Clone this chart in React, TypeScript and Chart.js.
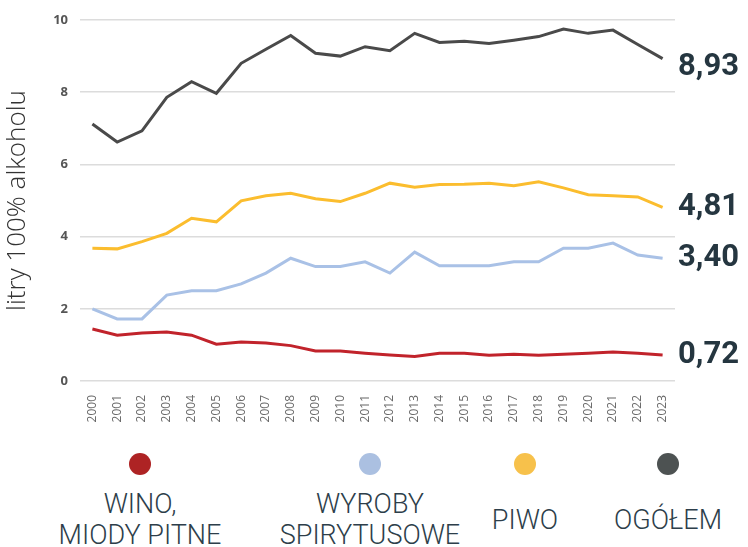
import React, { useEffect, useRef } from "react";
import { Chart, registerables } from "chart.js";

Chart.register(...registerables);

const years = ["2000","2001","2002","2003","2004","2005","2006","2007","2008","2009","2010","2011","2012","2013","2014","2015","2016","2017","2018","2019","2020","2021","2022","2023"];
const wino = [1.44,1.27,1.33,1.36,1.27,1.02,1.08,1.05,0.98,0.83,0.83,0.77,0.72,0.68,0.77,0.77,0.71,0.74,0.71,0.74,0.77,0.80,0.77,0.72];
const spirytus = [2.0,1.72,1.72,2.38,2.5,2.5,2.69,2.99,3.4,3.17,3.17,3.3,2.99,3.57,3.19,3.19,3.19,3.3,3.3,3.68,3.68,3.82,3.49,3.40];
const piwo = [3.68,3.66,3.86,4.09,4.51,4.41,4.99,5.13,5.2,5.05,4.97,5.2,5.48,5.37,5.44,5.45,5.48,5.41,5.52,5.35,5.16,5.13,5.1,4.81];
const ogolem = [7.12,6.62,6.93,7.86,8.29,7.97,8.80,9.19,9.57,9.08,9.00,9.26,9.15,9.63,9.38,9.41,9.35,9.44,9.54,9.75,9.63,9.72,9.32,8.93];
const yTicks = [0, 2, 4, 6, 8, 10];
const yTitle = "litry 100% alkoholu";

const seriesNames = ["WINO,\nMIODY PITNE", "WYROBY\nSPIRYTUSOWE", "PIWO", "OGÓŁEM"];
const lineColors = ["#c1232b", "#a9c1e6", "#fbbd2e", "#4a4a4a"];
const dotColors = ["#ae2324", "#abc0e1", "#f7c14b", "#4d5252"];
const legendCenters = [140, 370, 525, 668];

const endLabelPlugin = {
  id: "endLabels",
  afterDatasetsDraw(chart: any) {
    const { ctx, chartArea, scales } = chart;
    ctx.save();
    ctx.font = "bold 31px Roboto";
    ctx.fillStyle = "#253640";
    ctx.textBaseline = "middle";
    ctx.textAlign = "left";
    chart.data.datasets.forEach((ds: any) => {
      const v = ds.data[ds.data.length - 1];
      let y = scales.y.getPixelForValue(v);
      // keep the top label clear of the top gridline area, as in the reference
      y = Math.max(y, chartArea.top + 47);
      ctx.fillText(v.toFixed(2).replace(".", ","), chartArea.right + 3, y);
    });
    ctx.restore();
  },
};

export default function App() {
  const ref = useRef<HTMLCanvasElement>(null);
  useEffect(() => {
    document.body.style.margin = "0";
    const chart = new Chart(ref.current!, {
      type: "line",
      data: {
        labels: years,
        datasets: [wino, spirytus, piwo, ogolem].map((d, i) => ({
          label: seriesNames[i],
          data: d,
          borderColor: lineColors[i],
          backgroundColor: lineColors[i],
          borderWidth: 3,
          pointRadius: 0,
          tension: 0,
        })),
      },
      options: {
        animation: false,
        responsive: false,
        maintainAspectRatio: false,
        layout: { padding: { top: 20, right: 73, left: 2, bottom: 0 } },
        plugins: { legend: { display: false }, tooltip: { enabled: false } },
        scales: {
          x: {
            offset: true,
            grid: { display: false },
            border: { display: false },
            ticks: {
              minRotation: 90,
              maxRotation: 90,
              autoSkip: false,
              color: "#6a6a6a",
              padding: 6,
              font: { family: "Open Sans", size: 12 },
            },
            afterFit: (s: any) => { s.height = 59; },
          },
          y: {
            min: 0,
            max: 10,
            afterBuildTicks: (s: any) => { s.ticks = yTicks.map((v) => ({ value: v })); },
            grid: { color: "#dcdcdc", lineWidth: 1.5, drawTicks: false },
            border: { display: false },
            ticks: {
              color: "#555",
              padding: 12,
              font: { family: "Open Sans", size: 13, weight: "bold" },
            },
            title: {
              display: true,
              text: yTitle,
              color: "#333",
              font: { family: "Open Sans", size: 26, weight: "300" },
              padding: { top: 0, bottom: 4 },
            },
            afterFit: (s: any) => { s.width = 78; },
          },
        },
      },
      plugins: [endLabelPlugin],
    } as any);
    return () => chart.destroy();
  }, []);

  return (
    <div style={{ position: "relative", width: 748, height: 547, overflow: "hidden", background: "#fff" }}>
      <canvas ref={ref} width={748} height={440} style={{ position: "absolute", left: 0, top: 0, width: 748, height: 440 }} />
      {seriesNames.map((n, i) => (
        <React.Fragment key={n}>
          <div style={{ position: "absolute", left: legendCenters[i] - 11, top: 453, width: 22, height: 22, borderRadius: "50%", background: dotColors[i] }} />
          <div style={{
            position: "absolute", left: legendCenters[i] - 120, width: 240, top: 490, height: 60,
            display: "flex", alignItems: "center", justifyContent: "center", textAlign: "center",
            whiteSpace: "pre-line", fontFamily: "Roboto", fontWeight: 300, fontSize: 27, lineHeight: "31px", color: "#2d3e4a",
          }}>{n}</div>
        </React.Fragment>
      ))}
    </div>
  );
}
